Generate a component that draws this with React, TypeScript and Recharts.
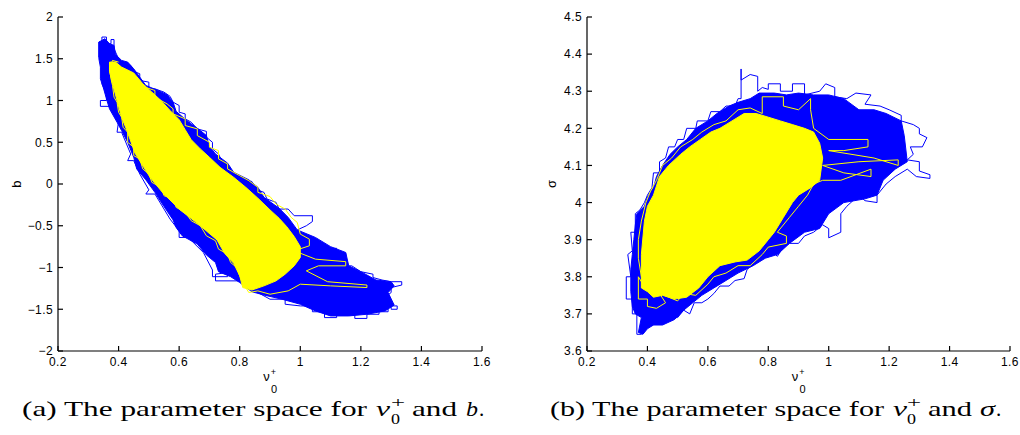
import React from 'react';
import { ScatterChart, Scatter, XAxis, YAxis } from 'recharts';

type Pt = [number, number];

const nuTicks = [0.2, 0.4, 0.6, 0.8, 1, 1.2, 1.4, 1.6];
const bTicks = [-2, -1.5, -1, -0.5, 0, 0.5, 1, 1.5, 2];
const sigmaTicks = [3.6, 3.7, 3.8, 3.9, 4, 4.1, 4.2, 4.3, 4.4, 4.5];

// (a) nu0+ vs b : outline of the dense blue cloud
const bBlueBody: Pt[] = [
  [0.335, 1.7], [0.355, 1.74], [0.37, 1.68], [0.385, 1.66], [0.39, 1.55], [0.41, 1.48], [0.43, 1.46],
  [0.45, 1.38], [0.47, 1.28], [0.49, 1.18], [0.53, 1.12], [0.56, 1.07], [0.58, 0.98], [0.59, 0.87],
  [0.625, 0.76], [0.67, 0.64], [0.69, 0.58], [0.7, 0.45], [0.72, 0.36], [0.76, 0.25], [0.78, 0.14],
  [0.83, 0.05], [0.86, -0.04], [0.88, -0.16], [0.93, -0.29], [0.96, -0.4], [0.99, -0.55], [1.05, -0.64],
  [1.1, -0.75], [1.15, -0.82], [1.16, -0.98], [1.2, -1.05], [1.25, -1.15], [1.3, -1.17], [1.31, -1.22],
  [1.29, -1.3], [1.31, -1.45], [1.28, -1.52], [1.22, -1.56], [1.16, -1.58], [1.1, -1.58], [1.05, -1.52],
  [1.0, -1.44], [0.94, -1.38], [0.88, -1.33], [0.84, -1.29], [0.8, -1.18], [0.77, -1.11], [0.73, -1.05],
  [0.72, -0.94], [0.69, -0.85], [0.66, -0.72], [0.61, -0.62], [0.59, -0.52], [0.58, -0.43], [0.55, -0.27],
  [0.52, -0.1], [0.49, 0.05], [0.46, 0.18], [0.45, 0.32], [0.43, 0.5], [0.41, 0.64], [0.395, 0.74],
  [0.37, 0.9], [0.36, 1.02], [0.35, 1.15], [0.34, 1.26], [0.34, 1.4], [0.335, 1.5], [0.335, 1.7],
];

// (a) ragged blue chain steps along the edges
const bBlueTrace: Pt[] = [
  [0.36, 1.5], [0.335, 1.52], [0.335, 1.7], [0.345, 1.7], [0.345, 1.76], [0.36, 1.76], [0.36, 1.68],
  [0.375, 1.68], [0.375, 1.73], [0.385, 1.73], [0.385, 1.62], [0.4, 1.5], [0.4, 1.4], [0.37, 1.38],
  [0.37, 1.45], [0.35, 1.42], [0.35, 1.3], [0.345, 1.2], [0.36, 1.08], [0.36, 1.0], [0.34, 1.0],
  [0.34, 0.93], [0.37, 0.93], [0.4, 0.75], [0.395, 0.62], [0.41, 0.62], [0.44, 0.36], [0.43, 0.28],
  [0.45, 0.28], [0.47, 0.12], [0.5, -0.07], [0.49, -0.12], [0.52, -0.12], [0.55, -0.3], [0.57, -0.42],
  [0.6, -0.56], [0.6, -0.64], [0.63, -0.64], [0.68, -0.82], [0.71, -1.03], [0.71, -1.11], [0.76, -1.11],
  [0.76, -1.06], [0.72, -1.08], [0.72, -1.16], [0.8, -1.16], [0.8, -1.12], [0.84, -1.12], [0.86, -1.3],
  [0.9, -1.38], [0.95, -1.38], [0.95, -1.44], [1.0, -1.46], [1.04, -1.46], [1.04, -1.53], [1.08, -1.53],
  [1.08, -1.6], [1.12, -1.6], [1.12, -1.57], [1.18, -1.57], [1.18, -1.61], [1.22, -1.61], [1.22, -1.56],
  [1.26, -1.56], [1.26, -1.53], [1.29, -1.53], [1.29, -1.46], [1.32, -1.46], [1.32, -1.5], [1.3, -1.5],
  [1.3, -1.4], [1.27, -1.38], [1.3, -1.3], [1.3, -1.24], [1.335, -1.21], [1.335, -1.17], [1.3, -1.17],
  [1.27, -1.15], [1.24, -1.12], [1.24, -1.08], [1.2, -1.05], [1.17, -0.98], [1.15, -0.98], [1.15, -0.83],
  [1.12, -0.83], [1.12, -0.77], [1.08, -0.77], [1.08, -0.72], [1.04, -0.72], [1.04, -0.64], [1.0, -0.62],
  [0.99, -0.55], [1.02, -0.5], [1.04, -0.45], [1.04, -0.38], [0.98, -0.38], [0.96, -0.3], [0.93, -0.3],
  [0.92, -0.22], [0.89, -0.18], [0.88, -0.1], [0.85, -0.06], [0.84, 0.03], [0.8, 0.05], [0.79, 0.12],
  [0.76, 0.14], [0.76, 0.22], [0.74, 0.28], [0.73, 0.36], [0.71, 0.42], [0.71, 0.5], [0.69, 0.56],
  [0.69, 0.63], [0.66, 0.66], [0.64, 0.74], [0.62, 0.78], [0.62, 0.84], [0.6, 0.86], [0.6, 0.94],
  [0.58, 0.98], [0.57, 1.05], [0.55, 1.1], [0.52, 1.14], [0.5, 1.14], [0.5, 1.22], [0.47, 1.24],
  [0.47, 1.32], [0.45, 1.35], [0.44, 1.42], [0.41, 1.45],
];

// (a) outline of the yellow core
const bYellowBody: Pt[] = [
  [0.37, 1.46], [0.39, 1.46], [0.41, 1.4], [0.45, 1.33], [0.48, 1.2], [0.51, 1.1], [0.54, 1.0],
  [0.57, 0.88], [0.6, 0.77], [0.62, 0.65], [0.64, 0.53], [0.67, 0.42], [0.7, 0.32], [0.735, 0.2],
  [0.78, 0.08], [0.82, -0.04], [0.86, -0.17], [0.9, -0.31], [0.93, -0.41], [0.955, -0.51], [0.98, -0.63],
  [1.0, -0.75], [1.0, -0.88], [0.98, -0.98], [0.95, -1.08], [0.92, -1.16], [0.88, -1.22], [0.84, -1.27],
  [0.81, -1.24], [0.8, -1.1], [0.78, -0.95], [0.75, -0.83], [0.725, -0.67], [0.66, -0.47], [0.603, -0.31],
  [0.547, -0.11], [0.504, 0.08], [0.454, 0.37], [0.427, 0.646], [0.41, 0.8], [0.395, 1.0], [0.38, 1.2],
  [0.37, 1.35], [0.37, 1.46],
];

const bYellowTrace: Pt[] = [
  [0.43, 1.28], [0.47, 1.24], [0.47, 1.18], [0.52, 1.12], [0.52, 1.04], [0.56, 0.96], [0.58, 0.9],
  [0.58, 0.84], [0.62, 0.78], [0.62, 0.7], [0.66, 0.66], [0.66, 0.58], [0.7, 0.5], [0.7, 0.44],
  [0.73, 0.4], [0.73, 0.3], [0.76, 0.24], [0.76, 0.18], [0.8, 0.1], [0.83, 0.04], [0.86, -0.04],
  [0.86, -0.1], [0.9, -0.15], [0.92, -0.24], [0.95, -0.3], [0.97, -0.4], [0.99, -0.46], [1.0, -0.6],
  [1.03, -0.66], [1.03, -0.74], [0.98, -0.8], [1.05, -0.9], [1.15, -0.93], [1.15, -0.98], [1.06, -0.98],
  [1.02, -1.04], [1.09, -1.17], [1.22, -1.21], [1.22, -1.24], [1.1, -1.22], [1.0, -1.2], [0.96, -1.28],
  [0.9, -1.32], [0.86, -1.28], [0.83, -1.3], [0.82, -1.24], [0.8, -1.1], [0.79, -1.0], [0.77, -0.94],
  [0.76, -0.84], [0.73, -0.78], [0.72, -0.68], [0.69, -0.62], [0.67, -0.5], [0.64, -0.44], [0.62, -0.34],
  [0.59, -0.28], [0.58, -0.18], [0.55, -0.14], [0.54, -0.04], [0.51, 0.02], [0.5, 0.12], [0.48, 0.18],
  [0.47, 0.3], [0.45, 0.34], [0.45, 0.44], [0.43, 0.5], [0.43, 0.62], [0.415, 0.68], [0.41, 0.8],
  [0.4, 0.86], [0.395, 0.98], [0.385, 1.04], [0.38, 1.18], [0.375, 1.26], [0.37, 1.38], [0.38, 1.48],
  [0.4, 1.46],
];

// (b) nu0+ vs sigma
const sBlueBody: Pt[] = [
  [0.37, 3.65], [0.38, 3.69], [0.36, 3.7], [0.35, 3.72], [0.345, 3.76], [0.345, 3.82], [0.35, 3.86],
  [0.355, 3.9], [0.36, 3.94], [0.365, 3.97], [0.39, 3.99], [0.4, 4.015], [0.42, 4.04], [0.43, 4.07],
  [0.45, 4.1], [0.475, 4.13], [0.5, 4.15], [0.53, 4.17], [0.56, 4.2], [0.6, 4.22], [0.63, 4.24],
  [0.67, 4.26], [0.7, 4.27], [0.74, 4.28], [0.77, 4.295], [0.82, 4.295], [0.86, 4.29], [0.9, 4.295],
  [0.95, 4.29], [1.0, 4.29], [1.05, 4.28], [1.1, 4.25], [1.15, 4.25], [1.19, 4.24], [1.24, 4.22],
  [1.25, 4.18], [1.26, 4.11], [1.22, 4.09], [1.18, 4.06], [1.16, 4.02], [1.12, 4.01], [1.05, 4.0],
  [1.0, 3.97], [0.97, 3.93], [0.92, 3.92], [0.87, 3.89], [0.83, 3.86], [0.79, 3.85], [0.75, 3.83],
  [0.7, 3.81], [0.66, 3.79], [0.62, 3.77], [0.58, 3.75], [0.55, 3.73], [0.52, 3.71], [0.49, 3.685],
  [0.45, 3.67], [0.42, 3.67], [0.4, 3.66], [0.385, 3.645], [0.37, 3.65],
];

const sBlueTrace: Pt[] = [
  [0.38, 3.68], [0.38, 3.645], [0.365, 3.645], [0.365, 3.7], [0.35, 3.7], [0.35, 3.74], [0.33, 3.74],
  [0.33, 3.8], [0.345, 3.8], [0.335, 3.86], [0.35, 3.87], [0.345, 3.92], [0.36, 3.92], [0.36, 3.97],
  [0.375, 3.98], [0.39, 4.0], [0.4, 4.02], [0.415, 4.04], [0.42, 4.08], [0.44, 4.08], [0.44, 4.11],
  [0.46, 4.12], [0.47, 4.15], [0.49, 4.15], [0.5, 4.17], [0.52, 4.17], [0.53, 4.2], [0.56, 4.2],
  [0.565, 4.22], [0.6, 4.22], [0.61, 4.245], [0.64, 4.245], [0.66, 4.26], [0.69, 4.26], [0.7, 4.28],
  [0.71, 4.28], [0.71, 4.36], [0.71, 4.33], [0.74, 4.345], [0.765, 4.34], [0.765, 4.3], [0.78, 4.31],
  [0.8, 4.305], [0.8, 4.32], [0.84, 4.32], [0.84, 4.3], [0.88, 4.3], [0.88, 4.32], [0.92, 4.32],
  [0.92, 4.29], [0.97, 4.3], [0.99, 4.32], [1.02, 4.31], [1.02, 4.285], [1.06, 4.28], [1.09, 4.295],
  [1.14, 4.29], [1.12, 4.265], [1.17, 4.26], [1.2, 4.25], [1.24, 4.235], [1.24, 4.22], [1.28, 4.21],
  [1.3, 4.2], [1.3, 4.185], [1.325, 4.175], [1.31, 4.15], [1.27, 4.15], [1.28, 4.13], [1.26, 4.115],
  [1.3, 4.11], [1.3, 4.085], [1.335, 4.075], [1.335, 4.065], [1.29, 4.07], [1.26, 4.09], [1.22, 4.07],
  [1.19, 4.05], [1.16, 4.02], [1.16, 4.0], [1.12, 4.005], [1.1, 4.02], [1.06, 3.99], [1.04, 3.97],
  [1.04, 3.92], [1.0, 3.905], [1.0, 3.93], [0.98, 3.94], [0.95, 3.92], [0.92, 3.91], [0.9, 3.89],
  [0.87, 3.89], [0.85, 3.88], [0.83, 3.855], [0.8, 3.88], [0.78, 3.85], [0.76, 3.84], [0.73, 3.82],
  [0.72, 3.795], [0.69, 3.79], [0.67, 3.775], [0.64, 3.775], [0.62, 3.755], [0.6, 3.74], [0.58, 3.73],
  [0.555, 3.73], [0.54, 3.7], [0.52, 3.71], [0.5, 3.69], [0.47, 3.69], [0.45, 3.675], [0.43, 3.68],
  [0.42, 3.67], [0.4, 3.675],
];

const sYellowBody: Pt[] = [
  [0.38, 3.77], [0.38, 3.86], [0.39, 3.95], [0.4, 3.99], [0.42, 4.02], [0.44, 4.07], [0.47, 4.1],
  [0.51, 4.13], [0.54, 4.15], [0.575, 4.17], [0.61, 4.19], [0.64, 4.2], [0.68, 4.22], [0.72, 4.24],
  [0.76, 4.24], [0.8, 4.23], [0.84, 4.22], [0.88, 4.21], [0.92, 4.2], [0.95, 4.19], [0.97, 4.16],
  [0.98, 4.12], [0.97, 4.06], [0.94, 4.04], [0.9, 4.02], [0.88, 4.0], [0.85, 3.96], [0.82, 3.92],
  [0.8, 3.9], [0.77, 3.87], [0.73, 3.845], [0.69, 3.84], [0.64, 3.83], [0.6, 3.8], [0.57, 3.77],
  [0.53, 3.745], [0.49, 3.74], [0.45, 3.75], [0.42, 3.745], [0.4, 3.76], [0.38, 3.77],
];

const sYellowTrace: Pt[] = [
  [0.4, 3.76], [0.37, 3.8], [0.37, 3.74], [0.4, 3.74], [0.4, 3.72], [0.43, 3.715], [0.46, 3.73],
  [0.44, 3.755], [0.5, 3.735], [0.52, 3.755], [0.56, 3.75], [0.6, 3.78], [0.62, 3.8], [0.66, 3.81],
  [0.7, 3.83], [0.74, 3.83], [0.78, 3.86], [0.8, 3.88], [0.86, 3.89], [0.86, 3.91], [0.83, 3.92],
  [0.87, 3.96], [0.9, 3.99], [0.93, 4.02], [0.95, 4.05], [0.98, 4.06], [1.04, 4.06], [1.14, 4.09],
  [1.14, 4.07], [1.05, 4.08], [0.98, 4.1], [1.1, 4.11], [1.23, 4.115], [1.23, 4.1], [1.15, 4.12],
  [1.0, 4.14], [1.05, 4.14], [1.13, 4.15], [1.13, 4.17], [1.0, 4.17], [0.95, 4.2], [0.94, 4.25],
  [0.94, 4.28], [0.9, 4.25], [0.85, 4.26], [0.85, 4.285], [0.78, 4.285], [0.78, 4.24], [0.74, 4.255],
  [0.7, 4.25], [0.66, 4.22], [0.62, 4.21], [0.58, 4.19], [0.55, 4.17], [0.51, 4.15], [0.48, 4.12],
  [0.45, 4.1], [0.43, 4.06], [0.41, 4.03], [0.395, 4.0], [0.38, 3.95], [0.37, 3.9], [0.37, 3.85],
  [0.38, 3.8],
];

const BLUE = '#0000ff';
const YELLOW = '#ffff00';
const SANS = '"Liberation Sans", Arial, Helvetica, sans-serif';
const SERIF = '"Liberation Serif", "Times New Roman", serif';

const toRows = (arr: Pt[]) => arr.map(([x, y]) => ({ x, y }));
const noDot = () => <g />;
const fmt = (v: number) => String(v).replace('-', '\u2212');

const BottomTick = (p: any) => (
  <text x={p.x} y={p.y} dy="0.71em" textAnchor="middle" fontSize={12} letterSpacing={0.4} fontFamily={SANS} fill="#000">
    {fmt(p.payload.value)}
  </text>
);

const LeftTick = (p: any) => (
  <text x={p.x} y={p.y} dy="0.355em" textAnchor="end" fontSize={12} letterSpacing={0.4} fontFamily={SANS} fill="#000">
    {fmt(p.payload.value)}
  </text>
);

const NuLabel = (p: any) => {
  const vb = p.viewBox;
  const cx = vb.x + vb.width / 2;
  return (
    <g fontFamily={SANS} fill="#000">
      <text x={cx - 3.5} y={vb.y + 30} fontSize={13} textAnchor="middle">ν</text>
      <text x={cx + 3.5} y={vb.y + 24} fontSize={9} textAnchor="middle">+</text>
      <text x={cx + 4} y={vb.y + 42} fontSize={11} textAnchor="middle">0</text>
    </g>
  );
};

// dx is measured from the plot's left edge
const yTitle = (name: string, dx: number) => (p: any) => {
  const vb = p.viewBox;
  const x = vb.x + vb.width + dx;
  const y = vb.y + vb.height / 2;
  return (
    <text x={x} y={y} transform={`rotate(-90, ${x}, ${y})`} textAnchor="middle" dominantBaseline="central"
      fontSize={13} fontFamily={SANS} fill="#000">
      {name}
    </text>
  );
};

type PanelProps = {
  left: number;
  marginLeft: number;
  marginRight: number;
  yTicks: number[];
  yName: string;
  yNameDx: number;
  blueBody: Pt[];
  blueTrace: Pt[];
  yellowBody: Pt[];
  yellowTrace: Pt[];
};

function Panel(props: PanelProps) {
  const yDomain = [props.yTicks[0], props.yTicks[props.yTicks.length - 1]];
  const layers = [
    { pts: props.blueBody, color: BLUE, filled: true },
    { pts: props.blueTrace, color: BLUE, filled: false },
    { pts: props.yellowBody, color: YELLOW, filled: true },
    { pts: props.yellowTrace, color: YELLOW, filled: false },
  ];
  return (
    <div style={{ position: 'absolute', left: props.left, top: 0 }}>
      <ScatterChart width={510} height={400}
        margin={{ top: 17, right: props.marginRight, bottom: 9, left: props.marginLeft }}>
        <XAxis xAxisId="bottom" dataKey="x" type="number" domain={[0.2, 1.6]} ticks={nuTicks} interval={0}
          allowDataOverflow height={40} tickSize={-5} tickMargin={11} stroke="#000" strokeWidth={1.2} tick={BottomTick}
          label={{ content: NuLabel }} />
        <XAxis xAxisId="top" orientation="top" type="number" domain={[0.2, 1.6]} ticks={nuTicks} interval={0}
          allowDataOverflow height={0} tickSize={-5} stroke="#000" strokeWidth={1.2} tick={false} />
        <YAxis yAxisId="left" dataKey="y" type="number" domain={yDomain} ticks={props.yTicks} interval={0}
          allowDataOverflow width={40} tickSize={-5} tickMargin={10} stroke="#000" strokeWidth={1.2} tick={LeftTick}
          label={{ content: yTitle(props.yName, props.yNameDx) }} />
        <YAxis yAxisId="right" orientation="right" type="number" domain={yDomain} ticks={props.yTicks}
          interval={0} allowDataOverflow width={0} tickSize={-5} stroke="#000" strokeWidth={1.2} tick={false} />
        {layers.map((l, i) => (
          <Scatter key={i} xAxisId="bottom" yAxisId="left" data={toRows(l.pts)} fill={l.color}
            line={l.filled ? { fill: l.color, stroke: l.color, strokeWidth: 1 } : { stroke: l.color, strokeWidth: 1 }}
            shape={noDot} legendType="none" isAnimationActive={false} />
        ))}
      </ScatterChart>
    </div>
  );
}

export default function App() {
  return (
    <div style={{ position: 'absolute', left: 0, top: 0, width: 1020, height: 435, background: '#fff' }}>
      <Panel left={0} marginLeft={18} marginRight={28} yTicks={bTicks} yName="b" yNameDx={-42}
        blueBody={bBlueBody} blueTrace={bBlueTrace} yellowBody={bYellowBody} yellowTrace={bYellowTrace} />
      <Panel left={510} marginLeft={37} marginRight={10} yTicks={sigmaTicks} yName="σ" yNameDx={-36}
        blueBody={sBlueBody} blueTrace={sBlueTrace} yellowBody={sYellowBody} yellowTrace={sYellowTrace} />
      <svg width={1020} height={435} style={{ position: 'absolute', left: 0, top: 0, pointerEvents: 'none' }}
        fontFamily={SERIF} fill="#000">
        <text x={22} y={416} fontSize={21} textLength={345} lengthAdjust="spacingAndGlyphs">(a) The parameter space for</text>
        <text x={376} y={416} fontSize={21} fontStyle="italic" textLength={14} lengthAdjust="spacingAndGlyphs">ν</text>
        <text x={391} y={407} fontSize={15} textLength={14} lengthAdjust="spacingAndGlyphs">+</text>
        <text x={391} y={424} fontSize={14} textLength={9} lengthAdjust="spacingAndGlyphs">0</text>
        <text x={412} y={416} fontSize={21} textLength={45} lengthAdjust="spacingAndGlyphs">and</text>
        <text x={466} y={416} fontSize={21} fontStyle="italic" textLength={12} lengthAdjust="spacingAndGlyphs">b</text>
        <text x={479} y={416} fontSize={21}>.</text>

        <text x={550} y={416} fontSize={21} textLength={334} lengthAdjust="spacingAndGlyphs">(b) The parameter space for</text>
        <text x={893} y={416} fontSize={21} fontStyle="italic" textLength={14} lengthAdjust="spacingAndGlyphs">ν</text>
        <text x={907} y={407} fontSize={15} textLength={14} lengthAdjust="spacingAndGlyphs">+</text>
        <text x={907} y={424} fontSize={14} textLength={9} lengthAdjust="spacingAndGlyphs">0</text>
        <text x={928} y={416} fontSize={21} textLength={44} lengthAdjust="spacingAndGlyphs">and</text>
        <text x={980} y={416} fontSize={21} fontStyle="italic" textLength={15} lengthAdjust="spacingAndGlyphs">σ</text>
        <text x={996} y={416} fontSize={21}>.</text>
      </svg>
    </div>
  );
}
